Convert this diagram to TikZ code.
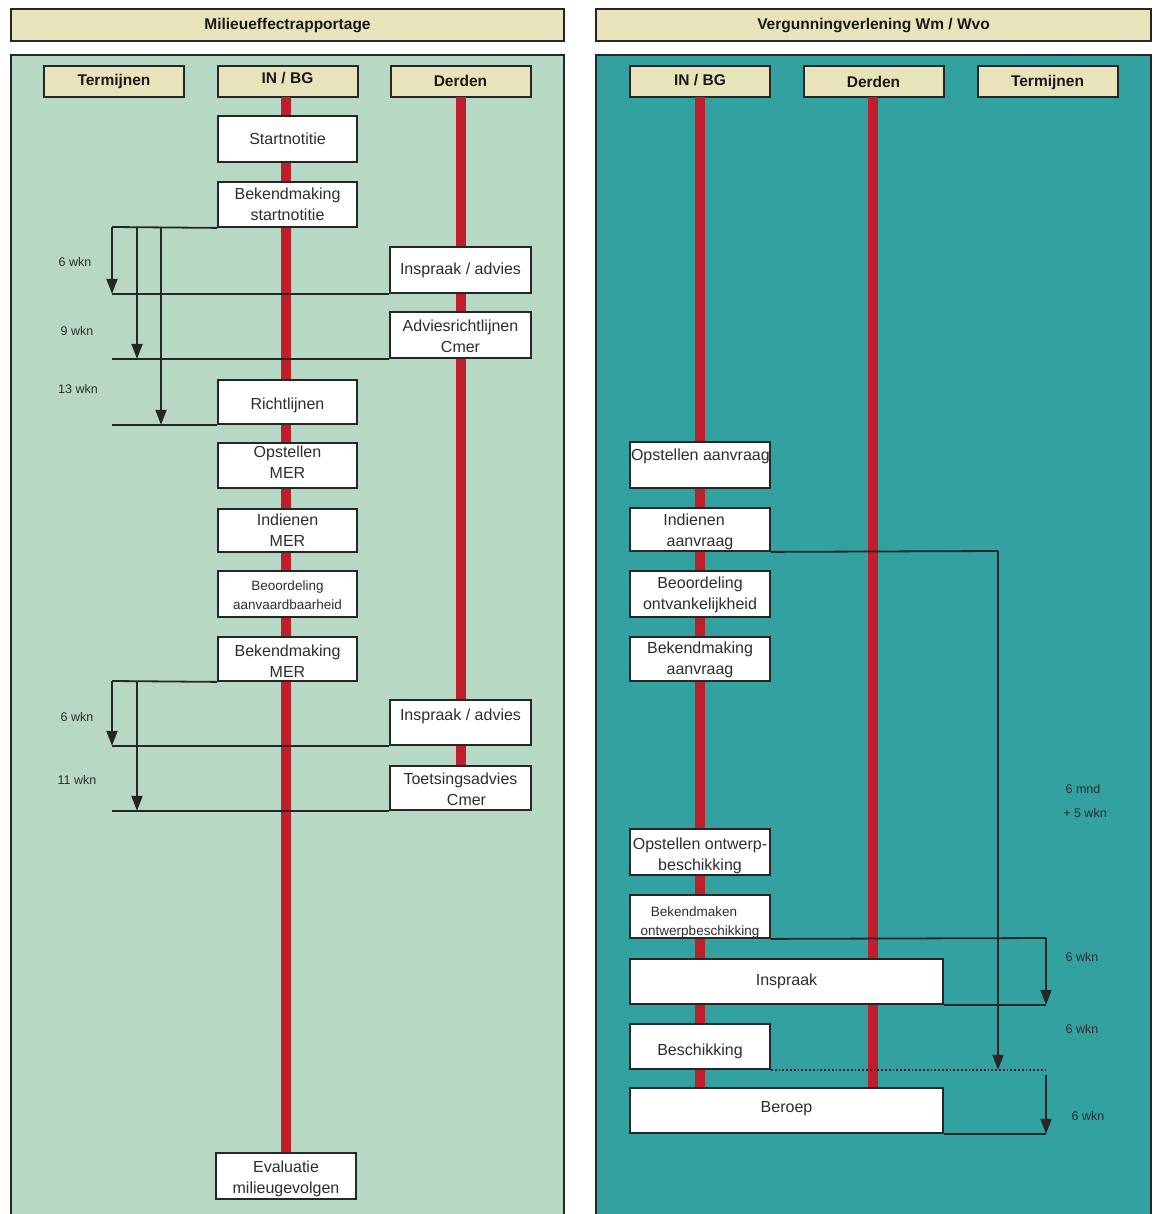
\documentclass[tikz,border=0pt]{standalone}
\usepackage{fontspec}
\setmainfont{Liberation Sans}
\usetikzlibrary{arrows.meta}
\definecolor{tan}{RGB}{232,227,186}
\definecolor{mint}{RGB}{184,216,198}
\definecolor{teal2}{RGB}{52,161,161}
\definecolor{redl}{RGB}{192,30,42}
\definecolor{txt}{RGB}{45,45,45}
% two-line text moved down by #1 (negative = up)
\newcommand{\lowtwo}[3]{\raisebox{\dimexpr -#1-4pt\relax}[0pt][0pt]{\begin{tabular}{@{}c@{}}#2\\#3\end{tabular}}}
% one-line text moved down by #1
\newcommand{\lowone}[2]{\raisebox{\dimexpr -#1-4pt\relax}[0pt][0pt]{#2}}
\tikzset{
  hdr/.style={draw=black!85, line width=2pt, fill=tan, font=\bfseries\fontsize{15.5}{18}\selectfont, text=black!90, inner sep=0pt, text height=12pt, text depth=2pt},
  colhdr/.style={hdr, minimum width=140pt, minimum height=31pt},
  box/.style={draw=black!85, line width=1.8pt, fill=white, minimum width=139pt, align=center, inner sep=0pt, text=txt, font=\fontsize{16}{21}\selectfont},
  smallbox/.style={box, font=\fontsize{13.5}{19}\selectfont},
  lbl/.style={font=\fontsize{12.5}{14}\selectfont, text=txt, inner sep=0pt},
  conn/.style={draw=black!85, line width=1.8pt},
  arr/.style={conn, -{Triangle[width=11pt,length=15pt]}},
  rline/.style={draw=redl, line width=10pt},
}
\begin{document}
\begin{tikzpicture}[x=1pt,y=-1pt]
\useasboundingbox (0,0) rectangle (1154,1214);
\fill[white] (0,0) rectangle (1154,1214);
% title bars
\node[hdr, minimum width=553pt, minimum height=32pt] (tl) at (287.5,25) {Milieueffectrapportage};
\node[hdr, minimum width=555pt, minimum height=32pt] (tr) at (873.5,25) {Vergunningverlening Wm / Wvo};
% panels
\filldraw[fill=mint, draw=black!85, line width=1.6pt] (11,1216) -- (11,55) -- (564,55) -- (564,1216);
\filldraw[fill=teal2, draw=black!85, line width=1.6pt] (596,1216) -- (596,55) -- (1151,55) -- (1151,1216);
% column headers left
\node[colhdr] (lt) at (114,81.5) {\raisebox{1pt}{Termijnen}};
\node[colhdr] (lin) at (287.5,81.5) {\raisebox{3pt}{IN / BG}};
\node[colhdr] (ld) at (460.5,81.5) {Derden};
% column headers right
\node[colhdr] (rin) at (700,81.5) {\raisebox{1pt}{IN / BG}};
\node[colhdr] (rd) at (873.5,81.5) {\raisebox{-1pt}{Derden}};
\node[colhdr] (rt) at (1047.5,81.5) {Termijnen};
% red lines
\draw[rline] (286,97) -- (286,1153);
\draw[rline] (461,97) -- (461,790);
\draw[rline] (700,97) -- (700,1088);
\draw[rline] (873,97) -- (873,1088);
% left IN/BG boxes
\node[box, minimum height=46pt] (st) at (287.5,139) {Startnotitie};
\node[box, minimum height=45pt] (bs) at (287.5,204.5) {\lowtwo{1.5pt}{Bekendmaking}{startnotitie}};
\node[box, minimum height=44pt] (rl) at (287.5,402) {\lowone{3pt}{Richtlijnen}};
\node[box, minimum height=45pt] (om) at (287.5,465.5) {\lowtwo{-1pt}{Opstellen}{MER}};
\node[box, minimum height=43pt] (im) at (287.5,530.5) {Indienen\\MER};
\node[smallbox, minimum height=46pt] (ba) at (287.5,594) {\lowtwo{2pt}{Beoordeling}{aanvaardbaarheid}};
\node[box, minimum height=44pt] (bm) at (287.5,659) {\lowtwo{4pt}{Bekendmaking}{MER}};
\node[box, minimum height=46pt, minimum width=140pt] (ev) at (286,1176) {\lowtwo{3pt}{Evaluatie}{milieugevolgen}};
% left Derden boxes
\node[box, minimum width=141pt, minimum height=46pt] (ia1) at (460.5,270) {Inspraak / advies};
\node[box, minimum width=141pt, minimum height=46pt] (ar) at (460.5,335) {\lowtwo{3pt}{Adviesrichtlijnen}{Cmer}};
\node[box, minimum width=141pt, minimum height=45pt] (ia2) at (460.5,722.5) {\lowone{-6pt}{Inspraak / advies}};
\node[box, minimum width=141pt, minimum height=44pt] (ta) at (460.5,788) {\lowtwo{3.5pt}{Toetsingsadvies}{\hspace*{12pt}Cmer}};
% right boxes
\node[box, minimum width=140pt, minimum height=46pt] (oa) at (700,465) {\lowone{-9pt}{\makebox[138pt][l]{Opstellen aanvraag}}};
\node[box, minimum width=140pt, minimum height=43pt] (ia) at (700,529.5) {\lowtwo{3pt}{\hspace*{-12pt}Indienen}{aanvraag}};
\node[box, minimum width=140pt, minimum height=46pt] (bo) at (700,594) {\lowtwo{1pt}{Beoordeling}{ontvankelijkheid}};
\node[box, minimum width=140pt, minimum height=44pt] (bk1) at (700,659) {\lowtwo{1pt}{Bekendmaking}{aanvraag}};
\node[box, minimum width=140pt, minimum height=46pt] (oo) at (700,852) {\lowtwo{4pt}{\makebox[138pt]{Opstellen ontwerp-}}{beschikking}};
\node[smallbox, minimum width=140pt, minimum height=43pt] (bk2) at (700,916.5) {\lowtwo{5pt}{\hspace*{-12pt}Bekendmaken}{ontwerpbeschikking}};
\node[box, minimum width=313pt, minimum height=45pt] (ins) at (786.5,981.5) {Inspraak};
\node[box, minimum width=140pt, minimum height=45pt] (bes) at (700,1046.5) {\lowone{5pt}{Beschikking}};
\node[box, minimum width=313pt, minimum height=45pt] (ber) at (786.5,1110.5) {\lowone{-2pt}{Beroep}};
% left connectors group 1
\coordinate (L1) at (112,227);
\coordinate (L2) at (137,227);
\coordinate (L3) at (161,227);
\draw[conn] (bs.south west) -- (L1);
\draw[arr] (L1) -- (L1 |- ia1.south);
\draw[arr] (L2) -- (L2 |- ar.south);
\draw[arr] (L3) -- (L3 |- rl.south);
\draw[conn] (L1 |- ia1.south) -- (ia1.south west);
\draw[conn] (L1 |- ar.south) -- (ar.south west);
\draw[conn] (L1 |- rl.south) -- (rl.south west);
% left connectors group 2
\coordinate (M1) at (112,681);
\coordinate (M2) at (137,681);
\draw[conn] (bm.south west) -- (M1);
\draw[arr] (M1) -- (M1 |- ia2.south);
\draw[arr] (M2) -- (M2 |- ta.south);
\draw[conn] (M1 |- ia2.south) -- (ia2.south west);
\draw[conn] (M1 |- ta.south) -- (ta.south west);
% left labels
\node[lbl] (w1) at (75,262) {6 wkn};
\node[lbl] (w2) at (77,331) {9 wkn};
\node[lbl] (w3) at (78,389) {13 wkn};
\node[lbl] (w4) at (77,717) {6 wkn};
\node[lbl] (w5) at (77,780) {11 wkn};
% right connectors
\coordinate (R1) at (998,551);
\coordinate (R2) at (1046,938);
\coordinate (R3) at (1046,1075);
\draw[conn] (ia.south east) -- (R1);
\draw[arr] (R1) -- (R1 |- bes.south);
\draw[conn] (bk2.south east) -- (R2);
\draw[arr] (R2) -- (R2 |- ins.south);
\draw[conn] (ins.south east) -- (R2 |- ins.south);
\draw[conn, dotted] (bes.south east) -- (R2 |- bes.south);
\draw[arr] (R3) -- (R3 |- ber.south);
\draw[conn] (ber.south east) -- (R3 |- ber.south);
% right labels
\node[lbl] (v1) at (1083,789) {6 mnd};
\node[lbl] (v2) at (1085,813) {+ 5 wkn};
\node[lbl] (v3) at (1082,957) {6 wkn};
\node[lbl] (v4) at (1082,1029) {6 wkn};
\node[lbl] (v5) at (1088,1116) {6 wkn};
\end{tikzpicture}
\end{document}
